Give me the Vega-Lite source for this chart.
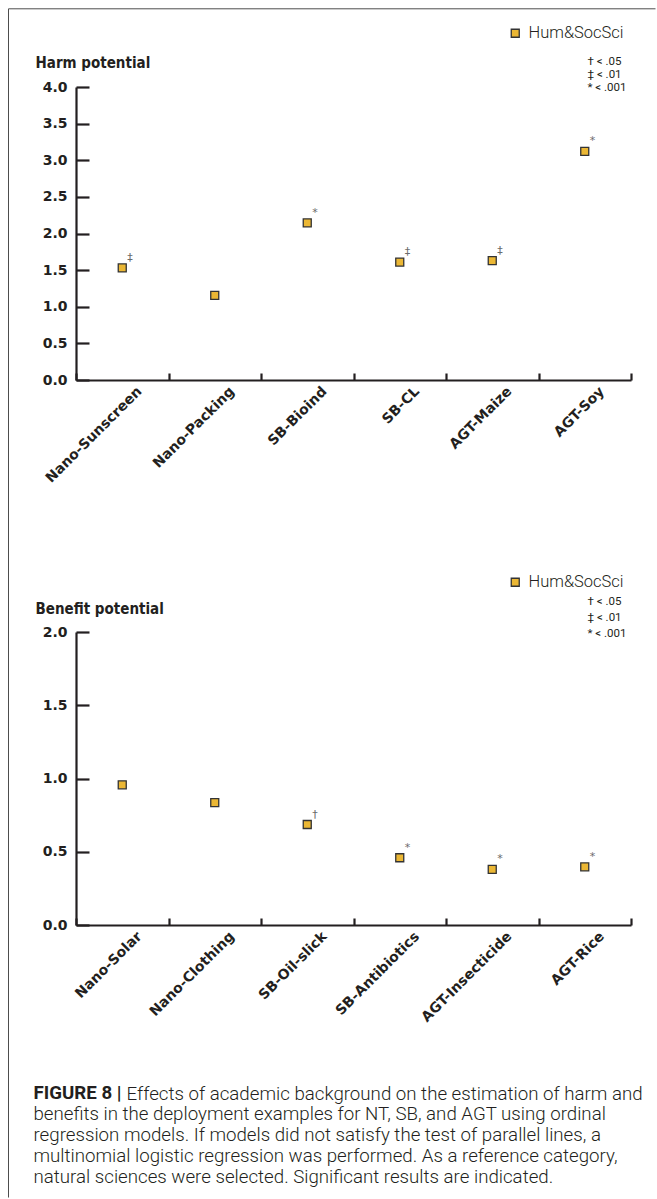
{
  "$schema": "https://vega.github.io/schema/vega-lite/v6.json",
  "background": "white",
  "padding": {"left": 8, "top": 8, "right": 0, "bottom": 0},
  "spacing": 252,
  "bounds": "flush",
  "config": {
    "view": {"stroke": null},
    "axis": {
      "domainColor": "#231f20", "domainWidth": 2.2, "tickColor": "#231f20", "tickWidth": 2.2,
      "labelColor": "#231f20", "labelFont": "DejaVu Sans", "labelFontWeight": "bold", "grid": false
    }
  },
  "datasets": {
    "harm": [
      {"item": "Nano-Sunscreen", "value": 1.53, "group": "Hum&SocSci", "sym": "‡", "sig": "‡ < .01"},
      {"item": "Nano-Packing", "value": 1.155, "group": "Hum&SocSci", "sym": null, "sig": null},
      {"item": "SB-Bioind", "value": 2.145, "group": "Hum&SocSci", "sym": "*", "sig": "* < .001"},
      {"item": "SB-CL", "value": 1.61, "group": "Hum&SocSci", "sym": "‡", "sig": "‡ < .01"},
      {"item": "AGT-Maize", "value": 1.63, "group": "Hum&SocSci", "sym": "‡", "sig": "‡ < .01"},
      {"item": "AGT-Soy", "value": 3.12, "group": "Hum&SocSci", "sym": "*", "sig": "* < .001"}
    ],
    "benefit": [
      {"item": "Nano-Solar", "value": 0.957, "group": "Hum&SocSci", "sym": null, "sig": null},
      {"item": "Nano-Clothing", "value": 0.836, "group": "Hum&SocSci", "sym": null, "sig": null},
      {"item": "SB-Oil-slick", "value": 0.686, "group": "Hum&SocSci", "sym": "†", "sig": "† < .05"},
      {"item": "SB-Antibiotics", "value": 0.459, "group": "Hum&SocSci", "sym": "*", "sig": "* < .001"},
      {"item": "AGT-Insecticide", "value": 0.38, "group": "Hum&SocSci", "sym": "*", "sig": "* < .001"},
      {"item": "AGT-Rice", "value": 0.397, "group": "Hum&SocSci", "sym": "*", "sig": "* < .001"}
    ]
  },
  "vconcat": [
    {
      "width": 555, "height": 293,
      "data": {"name": "harm"},
      "layer": [
        {
          "encoding": {
            "x": {"field": "item", "type": "nominal", "sort": null,
              "scale": {"paddingInner": 0, "paddingOuter": 0},
              "axis": {"title": "Effects of academic background on the estimation of harm and", "titleX": 50, "titleY": 713.5,
                "titleAlign": "left", "titleBaseline": "middle", "titleAngle": 0,
                "titleFont": "Roboto", "titleFontWeight": 300, "titleFontSize": 18.7, "titleColor": "#231f20",
                "labelAngle": -45, "labelFontSize": 14, "tickBand": "extent", "tickSize": -7, "labelPadding": 11, "labelOffset": 12}},
            "y": {"field": "value", "type": "quantitative",
              "scale": {"domain": [0, 4], "nice": false},
              "axis": {"title": "Harm potential", "titleAngle": 0, "titleAlign": "left", "titleBaseline": "middle", "titleX": -41, "titleY": -25,
                "titleFont": "DejaVu Sans Condensed, DejaVu Sans", "titleFontWeight": "bold", "titleFontSize": 15, "titleColor": "#231f20",
                "values": [0, 0.5, 1, 1.5, 2, 2.5, 3, 3.5, 4], "format": ".1f", "labelFontSize": 14, "tickSize": -13, "labelPadding": 22}}
          },
          "layer": [
            {
              "mark": {"type": "square", "size": 64, "filled": true, "opacity": 1, "stroke": "#333333", "strokeWidth": 1.3},
              "encoding": {
                "color": {"field": "group", "type": "nominal", "scale": {"range": ["#EBB734"]},
                  "legend": {"title": null, "orient": "none", "legendX": 431, "legendY": -62, "padding": 0,
                    "symbolType": "square", "symbolSize": 64, "symbolStrokeColor": "#333333", "symbolStrokeWidth": 1.3,
                    "labelOffset": 5, "labelFont": "Roboto", "labelFontWeight": 300, "labelFontSize": 16.5, "labelColor": "#231f20"}}
              }
            },
            {
              "transform": [{"filter": "datum.sym != null"}],
              "mark": {"type": "text", "align": "left", "baseline": "middle", "dx": 5, "dy": -10, "fontSize": 11, "font": "DejaVu Sans"},
              "encoding": {
                "text": {"field": "sym"},
                "color": {"field": "sig", "type": "nominal",
                  "scale": {"domain": ["† < .05", "‡ < .01", "* < .001"], "range": ["#6b6b6b", "#6b6b6b", "#6b6b6b"]},
                  "legend": {"title": null, "orient": "none", "legendX": 500, "legendY": -31, "padding": 0,
                    "symbolType": "circle", "symbolSize": 0, "symbolOpacity": 0, "labelOffset": 0, "rowPadding": 0,
                    "labelFont": "Roboto", "labelFontSize": 11.5, "labelColor": "#231f20"}}
              }
            }
          ],
          "resolve": {"scale": {"color": "independent"}}
        },
        {
          "mark": {"type": "point", "size": 0, "opacity": 0},
          "encoding": {
            "x": {"datum": 0, "type": "quantitative",
              "scale": {"domain": [0, 1], "range": [-68, 579], "nice": false, "zero": false},
              "axis": {"orient": "top", "offset": 78.7, "ticks": false, "labels": false, "grid": false, "domainColor": "#4d4d4d", "domainWidth": 1,
                "title": [
                  "benefits in the deployment examples for NT, SB, and AGT using ordinal",
                  "regression models. If models did not satisfy the test of parallel lines, a",
                  "multinomial logistic regression was performed. As a reference category,",
                  "natural sciences were selected. Significant results are indicated."
                ],
                "titleX": -43, "titleY": 1096, "titleAlign": "left", "titleBaseline": "top", "titleAngle": 0, "titleLineHeight": 21,
                "titleFont": "Roboto", "titleFontWeight": 300, "titleFontSize": 18.7, "titleColor": "#231f20"}},
            "y": {"datum": 0, "type": "quantitative",
              "scale": {"domain": [0, 1], "range": [1110, -78.7], "nice": false, "zero": false},
              "axis": {"orient": "left", "offset": 68, "title": null, "ticks": false, "labels": false, "grid": false, "domainColor": "#4d4d4d", "domainWidth": 1}}
          }
        }
      ],
      "resolve": {"scale": {"x": "independent", "y": "independent"}}
    },
    {
      "width": 555, "height": 293,
      "data": {"name": "benefit"},
      "encoding": {
        "x": {"field": "item", "type": "nominal", "sort": null,
          "scale": {"paddingInner": 0, "paddingOuter": 0},
          "axis": {"title": "FIGURE 8 |", "titleX": -43, "titleY": 167, "titleAlign": "left", "titleBaseline": "middle", "titleAngle": 0,
            "titleFont": "Roboto", "titleFontWeight": "bold", "titleFontSize": 18.7, "titleColor": "#231f20",
            "labelAngle": -45, "labelFontSize": 14, "tickBand": "extent", "tickSize": -7, "labelPadding": 11, "labelOffset": 12}},
        "y": {"field": "value", "type": "quantitative",
          "scale": {"domain": [0, 2], "nice": false},
          "axis": {"title": "Benefit potential", "titleAngle": 0, "titleAlign": "left", "titleBaseline": "middle", "titleX": -41, "titleY": -24,
            "titleFont": "DejaVu Sans Condensed, DejaVu Sans", "titleFontWeight": "bold", "titleFontSize": 15, "titleColor": "#231f20",
            "values": [0, 0.5, 1, 1.5, 2], "format": ".1f", "labelFontSize": 14, "tickSize": -13, "labelPadding": 22}}
      },
      "layer": [
        {
          "mark": {"type": "square", "size": 64, "filled": true, "opacity": 1, "stroke": "#333333", "strokeWidth": 1.3},
          "encoding": {
            "color": {"field": "group", "type": "nominal", "scale": {"range": ["#EBB734"]},
              "legend": {"title": null, "orient": "none", "legendX": 431, "legendY": -58, "padding": 0,
                "symbolType": "square", "symbolSize": 64, "symbolStrokeColor": "#333333", "symbolStrokeWidth": 1.3,
                "labelOffset": 5, "labelFont": "Roboto", "labelFontWeight": 300, "labelFontSize": 16.5, "labelColor": "#231f20"}}
          }
        },
        {
          "transform": [{"filter": "datum.sym != null"}],
          "mark": {"type": "text", "align": "left", "baseline": "middle", "dx": 5, "dy": -10, "fontSize": 11, "font": "DejaVu Sans"},
          "encoding": {
            "text": {"field": "sym"},
            "color": {"field": "sig", "type": "nominal",
              "scale": {"domain": ["† < .05", "‡ < .01", "* < .001"], "range": ["#6b6b6b", "#6b6b6b", "#6b6b6b"]},
              "legend": {"title": null, "orient": "none", "legendX": 500, "legendY": -36, "padding": 0,
                "symbolType": "circle", "symbolSize": 0, "symbolOpacity": 0, "labelOffset": 0, "rowPadding": 3,
                "labelFont": "Roboto", "labelFontSize": 11.5, "labelColor": "#231f20"}}
          }
        }
      ],
      "resolve": {"scale": {"color": "independent"}}
    }
  ]
}
